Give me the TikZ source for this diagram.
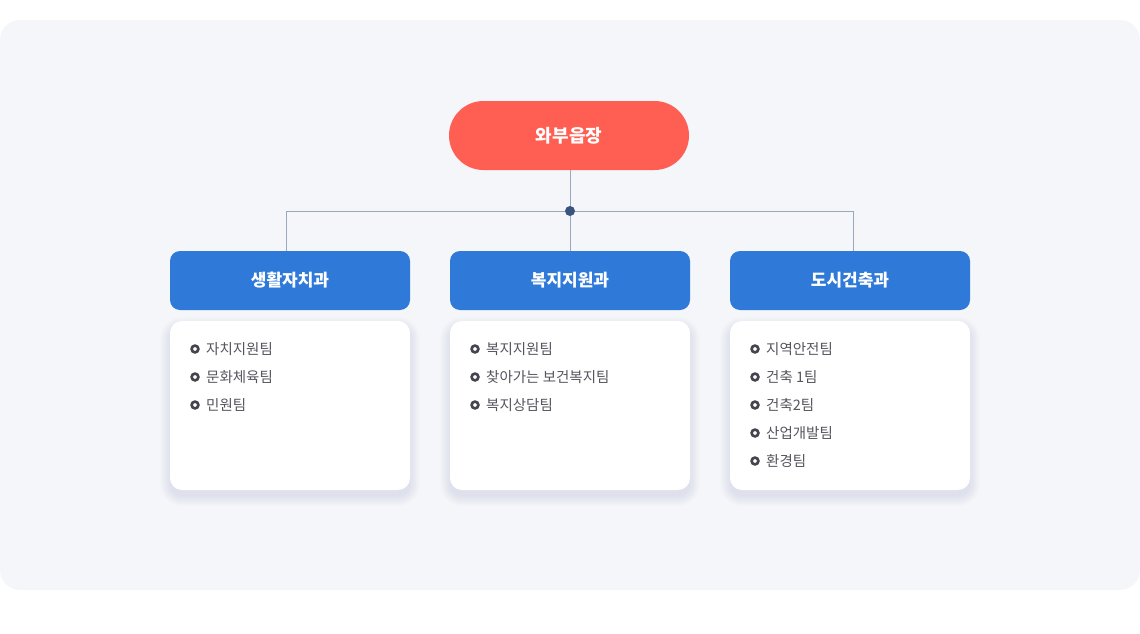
\documentclass[tikz,border=0pt]{standalone}
\usepackage{fontspec}
\setmainfont{Noto Sans CJK KR}
\definecolor{bgpanel}{HTML}{F4F6FA}
\definecolor{topred}{HTML}{FF5F52}
\definecolor{deptblue}{HTML}{2F7AD8}
\definecolor{linegray}{HTML}{9AA8BF}
\definecolor{dotnavy}{HTML}{3A5480}
\definecolor{itemtext}{HTML}{55555F}
\definecolor{bulletgray}{HTML}{45454F}
\definecolor{shadowcol}{HTML}{7080A0}
\tikzset{
  topnode/.style={draw=none, fill=topred, rounded corners=34.5pt, minimum width=240pt, minimum height=69pt, inner sep=0pt, text=white, font=\fontsize{18}{21}\selectfont\bfseries},
  deptnode/.style={draw=none, fill=deptblue, rounded corners=10pt, minimum width=240pt, minimum height=59pt, inner sep=0pt, text=white, font=\fontsize{17}{20}\selectfont\bfseries},
  listbox/.style={draw=none, fill=white, rounded corners=12pt, minimum width=240pt, minimum height=169pt, inner sep=0pt},
  itemtxt/.style={anchor=west, inner sep=0pt, text=itemtext, font=\fontsize{14.5}{17}\selectfont},
  bulletring/.style={draw=bulletgray, line width=2.6pt, fill=white},
  connector/.style={draw=linegray, line width=0.8pt},
}
\newcommand{\softshadow}[4]{% x1 y1 x2 y2
  \foreach \k in {0,...,10}{
    \fill[shadowcol, opacity=0.012, rounded corners=12pt+\k pt]
      (#1-\k,#2-\k+6) rectangle (#3+\k,#4+\k+6);
  }
}
\begin{document}
\begin{tikzpicture}[x=1pt,y=-1pt]
\useasboundingbox (0,0) rectangle (1140,634);
\fill[bgpanel, rounded corners=20pt] (0,20) rectangle (1140,590);
% top
\node[topnode] (top) at (569,135.5) {와부읍장};
% departments
\node[deptnode] (d1) at (290,280.5) {생활자치과};
\node[deptnode] (d2) at (570,280.5) {복지지원과};
\node[deptnode] (d3) at (850,280.5) {도시건축과};
% connectors
\coordinate (hub) at (570,211);
\coordinate (hl) at (286,211);
\coordinate (hr) at (853,211);
\draw[connector] (top.south -| hub) -- (hub);
\draw[connector] (hl) -- (hr);
\draw[connector] (hl) -- (hl |- d1.north);
\draw[connector] (hub) -- (hub |- d2.north);
\draw[connector] (hr) -- (hr |- d3.north);
\fill[dotnavy] (hub) circle (5pt);
% shadows
\softshadow{170}{321}{410}{490}
\softshadow{450}{321}{690}{490}
\softshadow{730}{321}{970}{490}
% list boxes
\node[listbox] (l1) at (290,405.5) {};
\node[listbox] (l2) at (570,405.5) {};
\node[listbox] (l3) at (850,405.5) {};
% items
\foreach \bx/\lst in {195/{자치지원팀,문화체육팀,민원팀}, 475/{복지지원팀,찾아가는 보건복지팀,복지상담팀}, 755/{지역안전팀,건축 1팀,건축2팀,산업개발팀,환경팀}}{
  \foreach \it [count=\i] in \lst {
    \pgfmathsetmacro{\yy}{349+28*(\i-1)}
    \draw[bulletring] (\bx,\yy) circle (3.4pt);
    \node[itemtxt] at (\bx+11,\yy) {\it};
  }
}
\end{tikzpicture}
\end{document}
